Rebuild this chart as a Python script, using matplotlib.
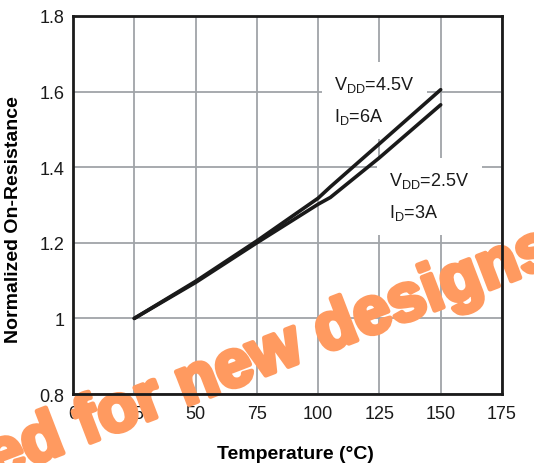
import matplotlib
matplotlib.use("Agg")
import matplotlib.pyplot as plt
import matplotlib.patheffects as pe

plt.rcParams['font.family'] = ['Liberation Sans', 'DejaVu Sans']
plt.rcParams['mathtext.fontset'] = 'custom'
plt.rcParams['mathtext.rm'] = 'Liberation Sans'
plt.rcParams['mathtext.default'] = 'regular'

# data
temp_hi = [25, 50, 75, 100, 105, 125, 150]
ron_hi = [1.0, 1.098, 1.205, 1.318, 1.348, 1.462, 1.605]   # VDD=4.5V, ID=6A
temp_lo = [25, 50, 75, 100, 105, 125, 150]
ron_lo = [1.0, 1.095, 1.2, 1.302, 1.32, 1.425, 1.565]      # VDD=2.5V, ID=3A

xticks = [0, 25, 50, 75, 100, 125, 150, 175]
yticks = [0.8, 1.0, 1.2, 1.4, 1.6, 1.8]
ytick_labels = ['0.8', '1', '1.2', '1.4', '1.6', '1.8']

fig = plt.figure(figsize=(5.34, 4.64), dpi=100)
ax = fig.add_axes([0.1367, 0.1487, 0.8033, 0.8147])

ax.plot(temp_hi, ron_hi, color='#1a1a1a', lw=2.6, solid_capstyle='round', zorder=3)
ax.plot(temp_lo, ron_lo, color='#1a1a1a', lw=2.6, solid_capstyle='round', zorder=3)

ax.set_xlim(0, 175)
ax.set_ylim(0.8, 1.8)
ax.set_xticks(xticks)
ax.set_yticks(yticks)
ax.set_yticklabels(ytick_labels)
ax.tick_params(length=0, labelsize=13, colors='#1a1a1a')
ax.tick_params(axis='x', pad=8)
ax.tick_params(axis='y', pad=6)
ax.grid(True, color='#a0a4a8', lw=1.3)
for s in ax.spines.values():
    s.set_linewidth(2.0)
    s.set_color('#1a1a1a')

ax.set_xlabel('Temperature (°C)', fontsize=14, fontweight='bold')
ax.set_ylabel('Normalized On-Resistance', fontsize=14, fontweight='bold')
ax.xaxis.set_label_coords(0.518, -0.135)
ax.yaxis.set_label_coords(-0.118, 0.465)

# baseline of the last line of each label
box = dict(facecolor='white', edgecolor='none', pad=9)
ax.text(106.5, 1.522, 'V$_{DD}$=4.5V\nI$_{D}$=6A', fontsize=13, va='baseline',
        ha='left', linespacing=1.8, bbox=box, zorder=2.2, color='#1a1a1a')
ax.text(129, 1.268, 'V$_{DD}$=2.5V\nI$_{D}$=3A', fontsize=13, va='baseline',
        ha='left', linespacing=1.8, bbox=box, zorder=2.2, color='#1a1a1a')

# watermark
ax.text(-0.01, -0.035, 'ed for new designs', transform=fig.transFigure,
        fontsize=48, fontweight='bold', color='#ff9a60', rotation=21,
        rotation_mode='anchor', ha='left', va='baseline', clip_on=False, zorder=2.4,
        path_effects=[pe.withStroke(linewidth=3.5, foreground='#ff9a60')])

fig.savefig('out.png', dpi=100)
